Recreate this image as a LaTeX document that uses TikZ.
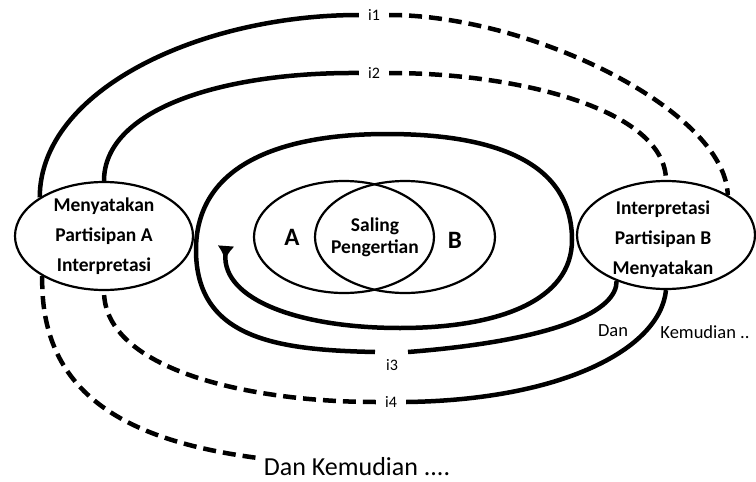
\documentclass[tikz,border=0pt]{standalone}
\usepackage{fontspec}
\setmainfont{Carlito}
\usetikzlibrary{shapes.geometric,arrows.meta}
\begin{document}
\begin{tikzpicture}[x=1pt,y=-1pt,
  bubble/.style={draw,ellipse,line width=2.2pt,minimum width=178pt,minimum height=108pt,inner sep=0pt},
  venn/.style={draw,ellipse,line width=2.2pt,minimum width=180pt,minimum height=112pt,inner sep=0pt},
  bubtext/.style={align=center,font=\fontsize{19.5}{30}\selectfont\bfseries,inner sep=0pt},
  venntext/.style={align=center,font=\fontsize{19.5}{22}\selectfont\bfseries,inner sep=0pt},
  letter/.style={font=\fontsize{25}{27}\selectfont\bfseries,inner sep=0pt},
  ilabel/.style={font=\fontsize{16}{18}\selectfont,inner xsep=9pt,inner ysep=1pt},
  note/.style={font=\fontsize{18.5}{20}\selectfont,inner sep=0pt},
  bignote/.style={font=\fontsize{26}{28}\selectfont,inner sep=0pt},
  solidline/.style={line width=4.5pt},
  dashline/.style={line width=4.5pt,dash pattern=on 13pt off 7pt}]
\useasboundingbox (0,0) rectangle (756,482);

% nodes
\node[bubble] (L) at (104,236) {};
\node[bubtext] (Lt) at (L.center) {Menyatakan\\Partisipan A\\Interpretasi};
\node[bubble] (R) at (666,235) {};
\node[bubtext] (Rt) at ([xshift=-3pt,yshift=-4pt]R.center) {Interpretasi\\Partisipan B\\Menyatakan};

\node[venn] (A) at (344,237) {};
\node[venn] (B) at (405,237) {};
\node[letter] (At) at (292,237) {A};
\node[letter] (Bt) at (455,240) {B};
\node[venntext] (S) at (375,237) {Saling\\Pengertian};

\node[ilabel] (i1) at (374,15) {i1};
\node[ilabel] (i2) at (374,73) {i2};
\node[ilabel] (i3) at (392,365) {i3};
\node[ilabel] (i4) at (391,402) {i4};
\coordinate (i3l) at (375,352);
\coordinate (i3r) at (408,352);

\node[note] (dan) at (613,331) {Dan};
\node[note] (kem) at (705,332) {Kemudian ..};
\node[bignote] (dk) at (357,467) {Dan Kemudian ....};
\coordinate (dkend) at (258,458);

% i1
\draw[solidline] (L.149) .. controls (40,90) and (200,15) .. (i1.west);
\draw[dashline] (i1.east) .. controls (530,15) and (725,110) .. (R.33);
% i2
\draw[solidline] (L.90) .. controls (104,110) and (220,72) .. (i2.west);
\draw[dashline] (i2.east) .. controls (520,73) and (665,110) .. (R.90);
% i3 spiral
\draw[solidline] (R.223) .. controls (617,310) and (560,340) .. (i3r);
\draw[solidline,-{Latex[reversed,length=14pt,width=17pt]}] (i3l)
  .. controls (280,350) and (196,340) .. (196,250)
  .. controls (196,165) and (280,134) .. (387,134)
  .. controls (500,134) and (572,165) .. (572,240)
  .. controls (572,300) and (500,328) .. (400,328)
  .. controls (300,328) and (222,300) .. (226,246);
% i4
\draw[solidline] (R.270) .. controls (660,350) and (560,400) .. (i4.east);
\draw[dashline] (i4.west) .. controls (250,402) and (104,370) .. (L.270);
% Dan Kemudian
\draw[dashline] (L.213) .. controls (40,390) and (120,440) .. (dkend);
\end{tikzpicture}
\end{document}
